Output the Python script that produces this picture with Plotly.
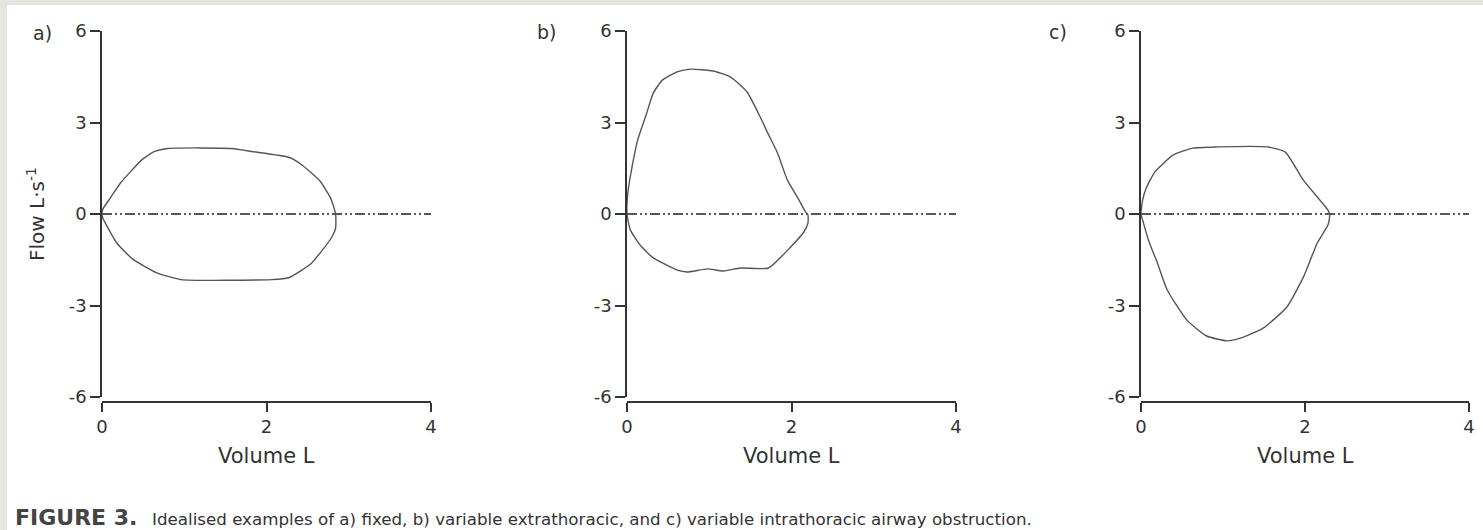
import plotly.graph_objects as go

W, H = 1483, 530

# ---------------- data ----------------
# a) fixed obstruction
vol_a = [0.00, 0.01, 0.10, 0.22, 0.49, 0.64, 0.80, 1.58, 1.82, 2.27, 2.42, 2.65, 2.78, 2.84,
         2.84, 2.78, 2.54, 2.27, 2.06, 0.96, 0.66, 0.37, 0.18, 0.01, 0.00]
flow_a = [0.00, 0.16, 0.52, 1.00, 1.79, 2.05, 2.15, 2.15, 2.05, 1.86, 1.63, 1.08, 0.52, 0.00,
          -0.46, -0.82, -1.63, -2.09, -2.15, -2.15, -1.92, -1.47, -0.95, -0.13, 0.00]

# b) variable extrathoracic obstruction
vol_b = [0.00, 0.01, 0.07, 0.13, 0.24, 0.32, 0.43, 0.61, 0.77, 1.05, 1.26, 1.46, 1.62, 1.71,
         1.83, 1.95, 2.07, 2.17, 2.20, 2.20, 2.15, 1.99, 1.72, 1.38, 1.17, 0.98, 0.73, 0.61,
         0.32, 0.16, 0.04, 0.00]
flow_b = [0.00, 0.69, 1.67, 2.43, 3.31, 3.97, 4.39, 4.66, 4.75, 4.69, 4.49, 4.00, 3.18, 2.66,
          2.00, 1.11, 0.56, 0.07, -0.03, -0.30, -0.59, -1.08, -1.77, -1.77, -1.87, -1.80, -1.90,
          -1.84, -1.44, -1.02, -0.52, 0.00]

# c) variable intrathoracic obstruction
vol_c = [0.00, 0.02, 0.07, 0.17, 0.39, 0.63, 0.93, 1.54, 1.76, 1.98, 2.28, 2.30,
         2.30, 2.28, 2.15, 1.98, 1.78, 1.49, 1.21, 1.05, 0.80, 0.56, 0.32, 0.20, 0.09, 0.02, 0.00]
flow_c = [0.00, 0.46, 0.89, 1.38, 1.93, 2.16, 2.20, 2.20, 2.03, 1.11, 0.13, 0.00,
          -0.10, -0.36, -0.95, -2.07, -3.05, -3.74, -4.07, -4.16, -4.00, -3.48, -2.49, -1.61,
          -0.85, -0.20, 0.00]

zero_vol = [0, 4]
zero_flow = [0, 0]

x_ticks = [0, 2, 4]
x_ticktext = ["0", "2", "4"]
y_ticks = [-6, -3, 0, 3, 6]
y_ticktext = ["-6", "-3", "0", "3", "6"]
panel_labels = ["a)", "b)", "c)"]
x_title = "Volume L"
y_title = "Flow L·s<sup>-1</sup>"
caption_head = "FIGURE 3."
caption_body = ("Idealised examples of a) fixed, b) variable extrathoracic, and c) variable "
                "intrathoracic airway obstruction.")

# ---------------- layout helpers ----------------
def fx(px):
    return px / W

def fy(py):
    return 1 - py / H

panels = [
    dict(vol=vol_a, flow=flow_a, x0=102, x1=431, lab=(42, 33)),
    dict(vol=vol_b, flow=flow_b, x0=627, x1=956, lab=(546, 32)),
    dict(vol=vol_c, flow=flow_c, x0=1141, x1=1469, lab=(1058, 32)),
]
Y_TOP, Y_BOT, X_AXIS_Y = 31, 397, 402

FONT = "DejaVu Sans"
AX_COL = "#333333"
CURVE_COL = "#555555"

fig = go.Figure()
annotations = []
layout_axes = {}

for i, p in enumerate(panels, start=1):
    xa = "x" if i == 1 else f"x{i}"
    ya = "y" if i == 1 else f"y{i}"
    fig.add_trace(go.Scatter(x=zero_vol, y=zero_flow, xaxis=xa, yaxis=ya, mode="lines",
                             line=dict(color="#222222", width=1.3,
                                       dash="10px,3px,2px,3px,2px,3px"),
                             hoverinfo="skip", showlegend=False))
    fig.add_trace(go.Scatter(x=p["vol"], y=p["flow"], xaxis=xa, yaxis=ya, mode="lines",
                             line=dict(color=CURVE_COL, width=1.4, shape="spline", smoothing=0.5),
                             showlegend=False))
    xkey = "xaxis" if i == 1 else f"xaxis{i}"
    ykey = "yaxis" if i == 1 else f"yaxis{i}"
    layout_axes[xkey] = dict(
        domain=[fx(p["x0"]), fx(p["x1"])], range=[0, 4], anchor="free", position=fy(X_AXIS_Y),
        tickvals=x_ticks, ticktext=x_ticktext, ticks="outside", ticklen=9, tickwidth=1.5,
        tickcolor=AX_COL, showline=True, linewidth=1.5, linecolor=AX_COL, showgrid=False,
        zeroline=False, automargin=False,
        tickfont=dict(family=FONT, size=18, color="#333333"),
    )
    layout_axes[ykey] = dict(
        domain=[fy(Y_BOT), fy(Y_TOP)], range=[-6, 6], anchor=xa,
        tickvals=y_ticks, ticktext=y_ticktext, ticks="outside", ticklen=10, tickwidth=1.5,
        tickcolor=AX_COL, showline=True, linewidth=1.5, linecolor=AX_COL, showgrid=False,
        zeroline=False, automargin=False,
        tickfont=dict(family=FONT, size=18, color="#333333"),
    )
    annotations.append(dict(text=panel_labels[i - 1], x=fx(p["lab"][0]), y=fy(p["lab"][1]),
                            xref="paper", yref="paper", showarrow=False,
                            xanchor="center", yanchor="middle",
                            font=dict(family=FONT, size=19, color="#333333")))
    annotations.append(dict(text=x_title, x=fx((p["x0"] + p["x1"]) / 2),
                            y=fy(456), xref="paper", yref="paper", showarrow=False,
                            xanchor="center", yanchor="middle",
                            font=dict(family=FONT, size=21, color="#333333")))

annotations.append(dict(text=y_title, x=fx(36), y=fy(214), xref="paper", yref="paper",
                        showarrow=False, textangle=-90, xanchor="center", yanchor="middle",
                        font=dict(family=FONT, size=20, color="#333333")))
annotations.append(dict(text="<b>" + caption_head + "</b>", x=fx(13), y=fy(517), xref="paper",
                        yref="paper", showarrow=False, xanchor="left", yanchor="middle",
                        font=dict(family=FONT, size=22, color="#444444")))
annotations.append(dict(text=caption_body, x=fx(150), y=fy(519), xref="paper", yref="paper",
                        showarrow=False, xanchor="left", yanchor="middle",
                        font=dict(family=FONT, size=16.7, color="#333333")))

shapes = [dict(type="rect", xref="paper", yref="paper", x0=fx(7), x1=1, y0=0, y1=fy(5),
               fillcolor="white", line=dict(width=0), layer="below")]

fig.update_layout(
    width=W, height=H, autosize=False,
    margin=dict(l=0, r=0, t=0, b=0, pad=0, autoexpand=False),
    paper_bgcolor="#e7e5e2", plot_bgcolor="rgba(0,0,0,0)",
    annotations=annotations, shapes=shapes, showlegend=False,
    **layout_axes,
)

fig.write_html("out.html",
               post_script="document.body.style.margin='0';document.body.style.overflow='hidden';")
